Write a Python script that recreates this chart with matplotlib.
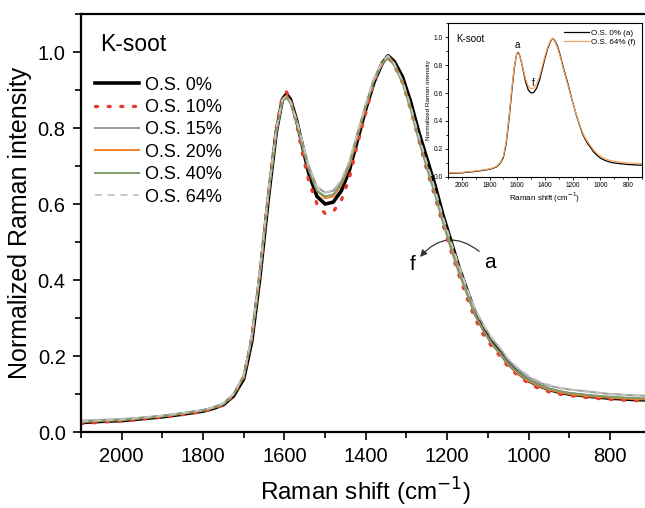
import numpy as np
import matplotlib
matplotlib.use('Agg')
import matplotlib.pyplot as plt
from matplotlib.patches import FancyArrowPatch
from matplotlib.ticker import MultipleLocator

plt.rcParams['font.family'] = ['Liberation Sans', 'DejaVu Sans']

# Raman shift grid (cm-1)
shift = [2100, 2050, 2000, 1950, 1900, 1850, 1800, 1775, 1750, 1725, 1700, 1680,
         1660, 1640, 1620, 1605, 1595, 1585, 1570, 1555, 1540, 1520, 1500, 1480,
         1460, 1440, 1420, 1400, 1380, 1360, 1345, 1330, 1310, 1290, 1270, 1250,
         1230, 1210, 1190, 1170, 1150, 1130, 1110, 1090, 1070, 1050, 1025, 1000,
         975, 950, 925, 900, 850, 800, 750, 700]

os_0 = [0.025, 0.028, 0.030, 0.035, 0.040, 0.047, 0.055, 0.062, 0.072, 0.095, 0.14, 0.24,
        0.41, 0.61, 0.79, 0.875, 0.89, 0.875, 0.82, 0.75, 0.68, 0.62, 0.60, 0.605,
        0.635, 0.69, 0.77, 0.85, 0.92, 0.97, 0.99, 0.975, 0.935, 0.87, 0.79, 0.72,
        0.65, 0.57, 0.50, 0.43, 0.37, 0.31, 0.27, 0.235, 0.21, 0.18, 0.155, 0.135,
        0.122, 0.112, 0.105, 0.10, 0.094, 0.089, 0.086, 0.084]
os_10 = [0.022, 0.026, 0.029, 0.034, 0.039, 0.046, 0.054, 0.061, 0.072, 0.097, 0.145, 0.25,
         0.42, 0.62, 0.80, 0.885, 0.895, 0.875, 0.81, 0.73, 0.66, 0.60, 0.575, 0.58,
         0.61, 0.67, 0.76, 0.84, 0.92, 0.97, 0.985, 0.965, 0.92, 0.85, 0.77, 0.69,
         0.62, 0.545, 0.475, 0.41, 0.35, 0.295, 0.255, 0.225, 0.20, 0.172, 0.148, 0.128,
         0.115, 0.106, 0.10, 0.096, 0.09, 0.086, 0.083, 0.082]
os_15 = [0.030, 0.032, 0.034, 0.038, 0.043, 0.050, 0.058, 0.065, 0.075, 0.10, 0.15, 0.25,
         0.42, 0.62, 0.79, 0.87, 0.885, 0.87, 0.82, 0.76, 0.70, 0.645, 0.63, 0.635,
         0.66, 0.71, 0.79, 0.86, 0.93, 0.97, 0.985, 0.965, 0.92, 0.85, 0.77, 0.70,
         0.63, 0.56, 0.49, 0.43, 0.37, 0.32, 0.28, 0.245, 0.22, 0.19, 0.165, 0.145,
         0.13, 0.122, 0.116, 0.112, 0.106, 0.10, 0.097, 0.095]
os_20 = [0.026, 0.029, 0.031, 0.036, 0.041, 0.048, 0.056, 0.063, 0.073, 0.098, 0.145, 0.25,
         0.42, 0.62, 0.795, 0.875, 0.885, 0.87, 0.815, 0.75, 0.69, 0.635, 0.615, 0.62,
         0.65, 0.70, 0.78, 0.855, 0.925, 0.97, 0.99, 0.97, 0.925, 0.855, 0.775, 0.70,
         0.63, 0.555, 0.485, 0.42, 0.36, 0.305, 0.265, 0.232, 0.207, 0.178, 0.153, 0.134,
         0.121, 0.111, 0.105, 0.10, 0.094, 0.09, 0.087, 0.085]
os_40 = [0.027, 0.030, 0.032, 0.037, 0.042, 0.049, 0.057, 0.064, 0.074, 0.099, 0.148, 0.25,
         0.42, 0.62, 0.79, 0.87, 0.88, 0.865, 0.815, 0.75, 0.69, 0.635, 0.62, 0.625,
         0.655, 0.705, 0.785, 0.86, 0.925, 0.97, 0.985, 0.965, 0.92, 0.85, 0.77, 0.695,
         0.625, 0.55, 0.48, 0.415, 0.36, 0.305, 0.265, 0.233, 0.208, 0.18, 0.156, 0.137,
         0.124, 0.114, 0.108, 0.103, 0.097, 0.093, 0.09, 0.088]
os_64 = [0.028, 0.031, 0.033, 0.038, 0.043, 0.050, 0.058, 0.065, 0.076, 0.10, 0.15, 0.255,
         0.43, 0.63, 0.80, 0.875, 0.885, 0.87, 0.82, 0.76, 0.70, 0.645, 0.63, 0.635,
         0.665, 0.715, 0.79, 0.865, 0.93, 0.975, 0.99, 0.97, 0.925, 0.86, 0.78, 0.71,
         0.64, 0.565, 0.50, 0.435, 0.375, 0.32, 0.28, 0.248, 0.222, 0.193, 0.168, 0.148,
         0.134, 0.124, 0.117, 0.112, 0.105, 0.10, 0.097, 0.095]

labels = ['O.S. 0%', 'O.S. 10%', 'O.S. 15%', 'O.S. 20%', 'O.S. 40%', 'O.S. 64%']
inset_labels = ['O.S. 0% (a)', 'O.S. 64% (f)']

fig = plt.figure(figsize=(6.45, 5.08), dpi=100)
ax = fig.add_axes([0.1256, 0.1496, 0.883, 0.8228])

series = [os_0, os_10, os_15, os_20, os_40, os_64]
styles = [
    dict(color='black', lw=2.6, ls='-'),
    dict(color='#e53a2e', lw=2.4, ls=(0, (0.6, 3.2)), dash_capstyle='round'),
    dict(color='#9a9a9a', lw=1.4, ls='-'),
    dict(color='#ef7f2a', lw=1.4, ls='-'),
    dict(color='#7f9c6c', lw=1.4, ls='-'),
    dict(color='#c4c4c4', lw=1.3, ls=(0, (4, 3))),
]
for y, st, lab in zip(series, styles, labels):
    ax.plot(shift, y, label=lab, **st)

ax.set_xlim(2100, 700)
ax.set_ylim(0, 1.1)
ax.xaxis.set_major_locator(MultipleLocator(200))
ax.xaxis.set_minor_locator(MultipleLocator(100))
ax.yaxis.set_major_locator(MultipleLocator(0.2))
ax.yaxis.set_minor_locator(MultipleLocator(0.1))
ax.tick_params(which='major', length=6, width=1.2, labelsize=14.5, direction='out', pad=5)
ax.tick_params(which='minor', length=4, width=1.2, direction='out')
for s in ['left', 'bottom', 'top']:
    ax.spines[s].set_linewidth(1.6)
ax.spines['right'].set_visible(False)
ax.set_xlabel('Raman shift (cm$^{-1}$)', fontsize=17.5, labelpad=7)
ax.set_ylabel('Normalized Raman intensity', fontsize=18, labelpad=4)

ax.text(0.033, 0.955, 'K-soot', transform=ax.transAxes, fontsize=16.5, va='top', ha='left')
ax.legend(loc='upper left', bbox_to_anchor=(0.0, 0.885), frameon=False, fontsize=13,
          handlelength=2.4, handletextpad=0.35, labelspacing=0.3, borderaxespad=0.4)

# curved arrow from a to f
arr = FancyArrowPatch((1116, 0.471), (1271, 0.455), connectionstyle='arc3,rad=0.5',
                      arrowstyle='-|>', mutation_scale=10, color='#333333', lw=0.9)
ax.add_patch(arr)
ax.text(1096, 0.447, 'a', fontsize=15, ha='center', va='center')
ax.text(1285, 0.44, 'f', fontsize=15, ha='center', va='center')

# inset
axi = fig.add_axes([0.6946, 0.6516, 0.3007, 0.3031])
axi.plot(shift, os_0, color='black', lw=0.9, label=inset_labels[0])
axi.plot(shift, os_64, color='#f4a460', lw=0.9, label=inset_labels[1])
axi.set_xlim(2100, 700)
axi.set_ylim(0, 1.1)
axi.xaxis.set_major_locator(MultipleLocator(200))
axi.xaxis.set_minor_locator(MultipleLocator(100))
axi.yaxis.set_major_locator(MultipleLocator(0.2))
axi.yaxis.set_minor_locator(MultipleLocator(0.1))
axi.tick_params(which='major', length=2, width=0.6, labelsize=4.8, pad=1.5)
axi.tick_params(which='minor', length=1.2, width=0.6)
for s in axi.spines.values():
    s.set_linewidth(0.8)
axi.set_xlabel('Raman shift (cm$^{-1}$)', fontsize=5.8, labelpad=1)
axi.set_ylabel('Normalized Raman intensity', fontsize=4.6, labelpad=2)
axi.text(0.04, 0.93, 'K-soot', transform=axi.transAxes, fontsize=7, va='top')
axi.text(1598, 0.94, 'a', fontsize=7, ha='center', va='center')
axi.text(1482, 0.67, 'f', fontsize=7, ha='center', va='center')
axi.legend(loc='upper right', frameon=False, fontsize=5.8, handlelength=3,
           handletextpad=0.3, labelspacing=0.1, borderaxespad=0.4)

fig.savefig('out.png', dpi=100)
